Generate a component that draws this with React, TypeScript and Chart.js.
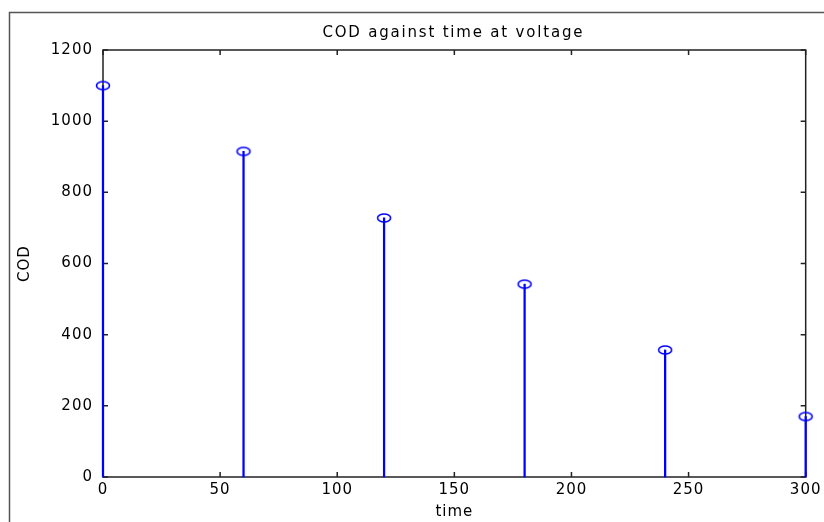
import React, { useEffect, useRef } from "react";
import { Chart, registerables } from "chart.js";

Chart.register(...registerables);

const timeValues = [0, 60, 120, 180, 240, 300];
const codValues = [1100, 915, 728, 542, 357, 170];
const xTickValues = [0, 50, 100, 150, 200, 250, 300];
const yTickValues = [0, 200, 400, 600, 800, 1000, 1200];
const chartTitle = "COD against time at voltage";
const xAxisTitle = "time";
const yAxisTitle = "COD";

const FONT = '"DejaVu Sans", sans-serif';
const BLUE = "#0000ff";

function makeMarker(): HTMLCanvasElement {
  const c = document.createElement("canvas");
  c.width = 18;
  c.height = 12;
  const g = c.getContext("2d")!;
  g.strokeStyle = BLUE;
  g.lineWidth = 1.6;
  g.beginPath();
  g.ellipse(9, 6, 6.5, 4, 0, 0, Math.PI * 2);
  g.stroke();
  return c;
}

const framePlugin = {
  id: "matlabFrame",
  beforeDraw(chart: any) {
    const ctx = chart.ctx;
    (ctx as any).letterSpacing = "1px";
    ctx.save();
    ctx.fillStyle = "#ffffff";
    ctx.fillRect(0, 0, chart.width, chart.height);
    ctx.strokeStyle = "#555555";
    ctx.lineWidth = 1.5;
    ctx.strokeRect(9.5, 12.5, chart.width + 40, chart.height + 40);
    ctx.restore();
  },
  beforeDatasetsDraw(chart: any) {
    const { ctx, chartArea: a, scales } = chart;
    ctx.save();
    ctx.strokeStyle = "#222222";
    ctx.lineWidth = 1.5;
    ctx.strokeRect(a.left, a.top, a.right - a.left, a.bottom - a.top);
    const tl = 5;
    ctx.beginPath();
    for (const v of xTickValues) {
      const x = scales.x.getPixelForValue(v);
      ctx.moveTo(x, a.bottom);
      ctx.lineTo(x, a.bottom - tl);
      ctx.moveTo(x, a.top);
      ctx.lineTo(x, a.top + tl);
    }
    for (const v of yTickValues) {
      const y = scales.y.getPixelForValue(v);
      ctx.moveTo(a.left, y);
      ctx.lineTo(a.left + tl, y);
      ctx.moveTo(a.right, y);
      ctx.lineTo(a.right - tl, y);
    }
    ctx.stroke();
    ctx.restore();
  },
  afterDraw(chart: any) {
    const { ctx, chartArea: a } = chart;
    ctx.save();
    (ctx as any).letterSpacing = "1.8px";
    ctx.font = `15px ${FONT}`;
    ctx.fillStyle = "#000000";
    ctx.textAlign = "center";
    ctx.textBaseline = "middle";
    ctx.fillText(chartTitle, (a.left + a.right) / 2 - 1, 33);
    ctx.restore();
  },
};

export default function App() {
  const ref = useRef<HTMLCanvasElement>(null);

  useEffect(() => {
    if (!ref.current) return;
    const marker = makeMarker();
    const points = timeValues.map((t, i) => ({ x: t, y: codValues[i] }));
    const chart = new Chart(ref.current, {
      type: "bar",
      data: {
        datasets: [
          {
            type: "bar",
            data: points,
            backgroundColor: BLUE,
            borderWidth: 0,
            barThickness: 1.6,
            clip: false,
          } as any,
          {
            type: "line",
            data: points,
            showLine: false,
            pointStyle: marker,
            pointRadius: 6,
            borderColor: BLUE,
            backgroundColor: BLUE,
            clip: false,
          } as any,
        ],
      },
      plugins: [framePlugin],
      options: {
        animation: false,
        responsive: false,
        devicePixelRatio: 1,
        layout: { padding: { top: 50, right: 18, bottom: 0, left: 0 } },
        plugins: {
          legend: { display: false },
          title: { display: false },
          tooltip: { enabled: false },
        },
        scales: {
          x: {
            type: "linear",
            min: 0,
            max: 300,
            offset: false,
            afterBuildTicks: (s: any) => {
              s.ticks = xTickValues.map((v) => ({ value: v }));
            },
            afterFit: (s: any) => {
              s.height = 45;
            },
            grid: { display: false, drawTicks: false },
            border: { display: false },
            ticks: {
              font: { family: FONT, size: 15 },
              color: "#000000",
              padding: 4,
              maxRotation: 0,
              autoSkip: false,
              callback: (v: any) => String(v),
            },
            title: {
              display: true,
              text: xAxisTitle,
              font: { family: FONT, size: 15 },
              color: "#000000",
              padding: { top: 0, bottom: 1 },
            },
          },
          y: {
            type: "linear",
            min: 0,
            max: 1200,
            afterBuildTicks: (s: any) => {
              s.ticks = yTickValues.map((v) => ({ value: v }));
            },
            afterFit: (s: any) => {
              s.width = 103;
            },
            grid: { display: false, drawTicks: false },
            border: { display: false },
            ticks: {
              font: { family: FONT, size: 15 },
              color: "#000000",
              padding: 10,
              autoSkip: false,
              callback: (v: any) => String(v),
            },
            title: {
              display: true,
              text: yAxisTitle,
              font: { family: FONT, size: 15 },
              color: "#000000",
              padding: { top: 16, bottom: 0 },
            },
          },
        },
      } as any,
    });
    return () => chart.destroy();
  }, []);

  return (
    <div style={{ position: "absolute", left: 0, top: 0, width: 824, height: 522, background: "#fff" }}>
      <canvas ref={ref} width={824} height={522} style={{ display: "block" }} />
    </div>
  );
}
